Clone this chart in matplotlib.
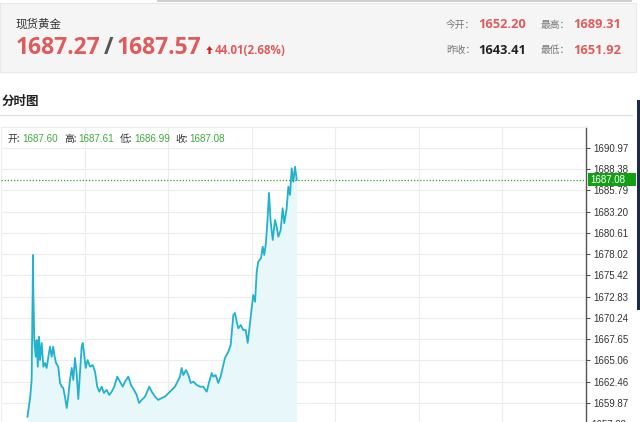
import matplotlib
matplotlib.use('Agg')
import matplotlib.pyplot as plt
import matplotlib.transforms as mtransforms
from matplotlib.patches import Rectangle, Polygon
from matplotlib.lines import Line2D

plt.rcParams['font.family'] = ['Noto Sans CJK SC', 'DejaVu Sans']

W, H = 640, 422

# quote header
name = '现货黄金'
bid = '1687.27'
ask = '1687.57'
change = '44.01(2.68%)'
open_lbl, open_val = '今开：', '1652.20'
high_lbl, high_val = '最高：', '1689.31'
prev_lbl, prev_val = '昨收：', '1643.41'
low_lbl, low_val = '最低：', '1651.92'

# OHLC row inside the chart
ohlc_labels = ['开:', '高:', '低:', '收:']
ohlc_values = ['1687.60', '1687.61', '1686.99', '1687.08']
last_price = 1687.08

y_ticks = [1659.87, 1662.46, 1665.06, 1667.65, 1670.24, 1672.83, 1675.42,
           1678.02, 1680.61, 1683.20, 1685.79, 1688.38, 1690.97]

# intraday gold price
minutes = [19, 21, 22, 23, 23.2, 23.9, 24.9, 25.6, 26.4, 27.3, 28.0, 29.2, 30.4, 31.6,
           32.8, 34.0, 35.2, 36.4, 37.5, 38.3, 39.5, 41.1, 42.4, 43.6, 44.7, 45.9, 47.2,
           48.3, 49.5, 50.8, 51.9, 53.1, 54.3, 55.5, 56.7, 57.9, 58.7, 59.6, 60.8, 62.2,
           63.9, 65.8, 67.5, 69.1, 70.6, 72.3, 73.9, 75.9, 77.7, 79.5, 81.3, 83.5, 85.4,
           87.4, 89.0, 91.4, 93.3, 95.5, 97.4, 99.1, 101.0, 103.4, 106.5, 108.2, 110.6,
           112.9, 115.4, 117.7, 121.3, 124.9, 128.5, 129.7, 130.9, 132.8, 134.5, 136.2,
           138.1, 140.5, 142.9, 145.2, 147.7, 149.5, 151.3, 152.4, 154.1, 156.0, 157.7,
           159.6, 160.8, 163.2, 164.9, 166.8, 168.0, 169.2, 170.4, 172.1, 173.9, 175.7,
           177.1, 178.8, 180.0, 181.1, 182.4, 183.6, 184.7, 186.7, 187.9, 189.0, 190.2,
           191.2, 192.4, 193.6, 195.1, 196.7, 197.9, 199.1, 200.8, 202.2, 203.4, 205.1,
           206.3, 207.5, 208.7, 209.9, 211.1, 212.3]
prices = [1658.20, 1660.64, 1662.68, 1677.92, 1673.65, 1667.55, 1665.52, 1667.55,
          1664.30, 1667.96, 1665.11, 1667.19, 1664.30, 1664.75, 1664.14, 1665.52,
          1666.74, 1665.52, 1666.74, 1665.72, 1664.75, 1664.30, 1662.31, 1661.86,
          1661.70, 1660.64, 1659.26, 1660.64, 1662.68, 1664.14, 1662.68, 1665.36,
          1663.53, 1660.36, 1663.53, 1666.74, 1667.19, 1665.97, 1664.14, 1665.11,
          1664.30, 1664.50, 1663.69, 1661.86, 1661.25, 1661.86, 1661.09, 1661.46,
          1660.85, 1661.25, 1661.86, 1663.08, 1662.47, 1661.86, 1662.47, 1663.08,
          1662.07, 1661.46, 1660.85, 1659.87, 1660.24, 1660.64, 1661.86, 1661.25,
          1660.64, 1660.24, 1660.48, 1660.64, 1661.25, 1661.86, 1663.08, 1664.14,
          1663.28, 1663.89, 1663.28, 1662.31, 1662.47, 1662.07, 1661.86, 1661.86,
          1661.25, 1662.47, 1663.53, 1663.08, 1663.28, 1662.31, 1663.08, 1664.50,
          1665.36, 1666.13, 1666.94, 1670.60, 1670.85, 1669.79, 1668.98, 1669.38,
          1668.77, 1668.77, 1667.19, 1669.63, 1671.46, 1673.04, 1672.22, 1675.88,
          1677.10, 1677.55, 1678.93, 1677.92, 1679.38, 1681.82, 1685.48, 1681.98,
          1679.75, 1682.19, 1681.37, 1680.15, 1680.97, 1683.62, 1681.79, 1683.62,
          1686.25, 1685.24, 1688.49, 1686.86, 1688.69, 1687.08]

red = '#e05b5b'
green = '#3fa83f'
num_font = ['Liberation Sans', 'DejaVu Sans']


def fx(x):
    return x / W


def fy(y):
    return 1 - y / H


fig = plt.figure(figsize=(6.4, 4.22), dpi=100)
fig.patch.set_facecolor('white')

# header box
fig.add_artist(Rectangle((fx(157), fy(2)), 475 / W, 2 / H, transform=fig.transFigure,
                         fc='#cfcfcf', ec='none'))
fig.add_artist(Rectangle((0, fy(72)), 636 / W, 69 / H, transform=fig.transFigure,
                         fc='#f5f5f5', ec='#e8e8e8', lw=0.8))
fig.text(fx(16), fy(24), name, fontsize=8.3, color='#333333', va='center')
fig.text(fx(16), fy(48), bid, family='Open Sans', fontweight='bold', fontsize=16.5,
         color=red, va='center')
fig.text(fx(104), fy(48), '/', family='Open Sans', fontweight='bold', fontsize=16.5,
         color='#555555', va='center')
fig.text(fx(117), fy(48), ask, family='Open Sans', fontweight='bold', fontsize=16.5,
         color=red, va='center')
fig.add_artist(Polygon([(fx(209.5), fy(46)), (fx(212.7), fy(50)), (fx(210.6), fy(50)),
                        (fx(210.6), fy(54)), (fx(208.4), fy(54)), (fx(208.4), fy(50)),
                        (fx(206.3), fy(50))], closed=True, transform=fig.transFigure,
                       fc='#d92020', ec='none'))
fig.text(fx(215), fy(50), change, family='Open Sans', fontweight='bold', fontsize=8.3,
         color=red, va='center')

for lbl, val, x, y, col in [(open_lbl, open_val, 446, 25, red),
                            (high_lbl, high_val, 541, 25, red),
                            (prev_lbl, prev_val, 446, 50, '#222222'),
                            (low_lbl, low_val, 541, 50, red)]:
    fig.text(fx(x), fy(y), lbl, fontsize=7, color='#777777', va='center')
    fig.text(fx(x + 32), fy(y), val, family='Open Sans', fontweight='bold',
             fontsize=9.3, color=col, va='center')

fig.text(fx(2), fy(101), '分时图', fontsize=9, fontweight='bold', color='#222222',
         va='center')
fig.add_artist(Line2D([0, fx(632)], [fy(115), fy(115)], color='#e2e2e2', lw=1))

# chart
ax = fig.add_axes([fx(1), 0, 585 / W, 295 / H])
y_lo, y_hi = 1657.55, 1693.53
ax.fill_between(minutes, prices, y_lo, color='#e7f7fa', lw=0)
ax.plot(minutes, prices, color='#20b2cf', lw=1.3)
ax.axhline(last_price, color='#2ca02c', ls=(0, (1, 1.5)), lw=0.9)

ax.set_xlim(0, 420)
ax.set_ylim(y_lo, y_hi)
ax.set_xticks(range(0, 420, 60))
ax.tick_params(axis='x', length=0, labelbottom=False)
ax.yaxis.tick_right()
ax.set_yticks(y_ticks)
ax.set_yticklabels(['%.2f' % v for v in y_ticks], family=num_font)
ax.tick_params(axis='y', length=3, width=0.8, color='#555555', labelsize=7.0,
               labelcolor='#333333', pad=2)
ax.grid(True, color='#ececec', lw=0.8)
ax.set_axisbelow(True)
for s in ['left', 'bottom']:
    ax.spines[s].set_visible(False)
ax.spines['top'].set_color('#ececec')
ax.spines['right'].set_color('#555555')
ax.spines['right'].set_linewidth(1)

# last price tag
trans = mtransforms.blended_transform_factory(ax.transAxes, ax.transData)
ax.add_patch(Rectangle((1.003, last_price - 0.8), 0.082, 1.6, transform=trans,
                       fc='#14a014', ec='none', clip_on=False))
ax.text(1.008, last_price, '%.2f' % last_price, transform=trans, family=num_font,
        fontsize=7.0, color='white', va='center', ha='left', clip_on=False)

# OHLC row
for lbl, val, x in zip(ohlc_labels, ohlc_values, [8, 64, 120, 175]):
    fig.text(fx(x), fy(139), lbl, fontsize=7, color='#333333', va='center')
    fig.text(fx(x + 14), fy(139), val, family=num_font, fontsize=7.1, color=green,
             va='center')

fig.text(fx(591), fy(424.5), '1657.28', family=num_font, fontsize=7.0, color='#333333',
         va='center')

# dark edge on the right of the screenshot
fig.add_artist(Rectangle((fx(637), fy(310)), 3 / W, 210 / H, transform=fig.transFigure,
                         fc='#1c2b4a', ec='none'))

fig.savefig('out.png', dpi=100)
